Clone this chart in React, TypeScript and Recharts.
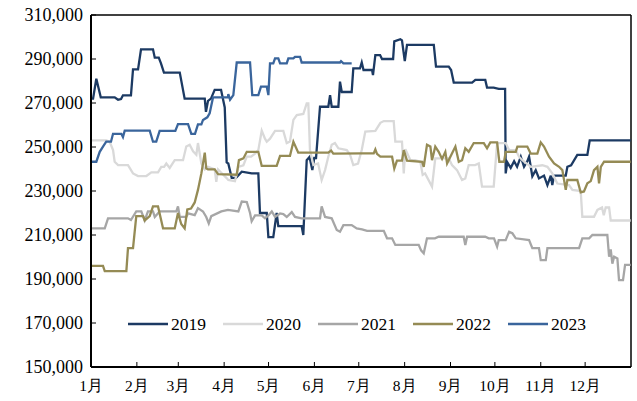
import React from 'react';
import { LineChart, Line, XAxis, YAxis, Legend, ReferenceLine } from 'recharts';

// x = day of year (0..365), y = price
const monthStarts = [0, 31, 59, 90, 120, 151, 181, 212, 243, 273, 304, 334];
const monthLabels = ['1月', '2月', '3月', '4月', '5月', '6月', '7月', '8月', '9月', '10月', '11月', '12月'];
const yTicks = [150000, 170000, 190000, 210000, 230000, 250000, 270000, 290000, 310000];

const s2019: [number, number][] = [
  [0, 272000], [1.4, 272000], [3.6, 281000], [6.6, 272600], [16, 272600], [18.3, 271500], [20.3, 271800],
  [21.6, 273500], [27, 273500], [28.4, 285300], [31.8, 285300], [33.8, 294400], [41.9, 294400], [43.1, 290600],
  [45.8, 290600], [47.3, 288000], [49.3, 283800], [60, 283800], [63.3, 272000], [76.9, 272000], [77.7, 266000],
  [79.1, 271000], [81.1, 272000], [83.6, 276000], [87.9, 276000], [90.4, 268000], [91.7, 243000], [92.8, 242500],
  [95.1, 236000], [98, 236000], [101.9, 238800], [108.6, 238000], [113.1, 238000], [114.2, 220000], [118.8, 220000],
  [119.9, 209000], [123.2, 209000], [125.5, 220000], [126.6, 214000], [142.4, 214000], [143.5, 210000],
  [145.8, 244000], [147.7, 245500], [149.6, 239500], [150.9, 245000], [152.1, 245000], [154.8, 268300],
  [160.4, 268300], [161.6, 273600], [162.7, 268300], [167.2, 268300], [168.3, 279700], [169.5, 275000],
  [176.2, 275000], [177.3, 285700], [181.8, 285700], [183, 288400], [184.2, 285000], [190, 285000],
  [190.6, 282700], [192.2, 291800], [195.4, 291800], [196.7, 290000], [204.2, 290000], [205, 298000],
  [209.1, 299000], [210.2, 298500], [212.1, 289000], [213.6, 296400], [231.7, 296400], [233.2, 286500],
  [241.8, 286500], [243.4, 285000], [245.2, 279300], [257.6, 279300], [259.8, 280500], [266.5, 280500],
  [267.7, 277000], [272.2, 277000], [275.6, 276400], [279.9, 276400], [280.3, 238000], [281.4, 243000],
  [283.7, 240500], [286, 243500], [288, 241000], [290.5, 245600], [292.7, 241000], [294.9, 243500],
  [296.1, 245600], [298.3, 236700], [300.6, 239500], [302.8, 235700], [306.2, 237000], [308.5, 232700],
  [310.8, 237000], [311.8, 232700], [313, 237000], [320.9, 237000], [322, 241000], [324.5, 241700],
  [328.7, 246400], [335.5, 246400], [337.1, 253000], [364.8, 253000],
];

const s2020: [number, number][] = [
  [0, 253000], [10.3, 253000], [12.6, 252400], [14.9, 248600], [16, 243300], [18.3, 241800], [25, 241800],
  [28.4, 238000], [31.8, 236800], [37.4, 236800], [40.8, 238500], [45.3, 238500], [47.5, 241000], [49.4, 241000],
  [50.9, 242500], [53.2, 240500], [56.6, 244000], [62.2, 244000], [64.4, 250200], [66.7, 251000], [69, 248000],
  [71.2, 246500], [72.3, 251800], [74.6, 242500], [76.9, 239800], [79.1, 241000], [83.6, 239800], [84.7, 234200],
  [85.9, 239800], [89.2, 237500], [91.5, 236000], [92.8, 235000], [97.3, 234500], [99.6, 241000], [103, 241700],
  [105.3, 245600], [108.2, 245600], [110.9, 247000], [113.1, 248600], [115.4, 257400], [117.6, 253800],
  [118.8, 252400], [121, 253800], [124.4, 257300], [130, 257300], [132.3, 251800], [134.5, 252500],
  [136.8, 262300], [139.1, 264500], [143.5, 265000], [145.8, 269800], [146.9, 269800], [148, 248600],
  [150.3, 241800], [153.5, 242500], [155.9, 235000], [158.2, 239500], [160.4, 245600], [162.7, 251000],
  [164.9, 251800], [167.2, 249400], [172.9, 248600], [175.1, 246500], [177.3, 241800], [180.5, 242500],
  [183, 248600], [185.4, 257000], [192.2, 257300], [195.6, 261000], [197.9, 261800], [204.6, 261800],
  [205.7, 252400], [210.2, 252400], [211.4, 238000], [212.5, 249000], [215.9, 244000], [219, 244000],
  [222.6, 243300], [224.2, 237300], [225.8, 238000], [230.5, 232000], [232.7, 244800], [241.8, 244800],
  [244, 241800], [247.4, 239500], [250.8, 235000], [253, 235700], [255.3, 241800], [259.6, 241800],
  [262.1, 242500], [264.3, 232000], [272.2, 232000], [274.5, 251800], [280.3, 251800], [282.6, 248600],
  [287.1, 248600], [289.3, 245600], [291.6, 244000], [297.3, 241000], [305.1, 241700], [308.5, 241000],
  [311.8, 238000], [315.2, 233400], [323.1, 232700], [325.4, 230500], [331, 230000], [332.1, 218300],
  [340, 218300], [342.3, 221400], [345.4, 222500], [346.6, 219000], [347.9, 222500], [350.2, 222500],
  [351.3, 216600], [364.8, 216600],
];

const s2021: [number, number][] = [
  [0, 213000], [9.3, 213000], [11.5, 217600], [25, 217600], [27, 216800], [30.6, 220700], [34, 220700],
  [36.3, 216600], [38.5, 220700], [41.9, 220700], [43.1, 218200], [46.4, 220700], [57.7, 220700], [58.8, 223000],
  [60, 218200], [64.4, 218200], [65.6, 219800], [70.1, 219000], [72.3, 222200], [75.7, 220700], [77.9, 218200],
  [79.6, 215300], [81.3, 218600], [88.1, 220700], [92.6, 221400], [99.6, 220700], [101.9, 225200],
  [105.3, 225000], [107.5, 220000], [108.6, 216200], [110.9, 218900], [115.4, 218900], [117.6, 217600],
  [119.9, 218900], [122.2, 220700], [124.4, 218200], [127.8, 219800], [130, 219500], [132.3, 218200],
  [135.7, 220400], [137.9, 218200], [142.4, 217600], [154.8, 217600], [155.9, 223000], [158.2, 218200],
  [162.7, 217600], [166.1, 212300], [168.3, 211500], [170.6, 214500], [176.2, 214500], [179.6, 213000],
  [183.2, 212600], [186.6, 211900], [197.9, 211900], [200.1, 208500], [203.5, 208500], [205.7, 205500],
  [221.5, 205500], [223.1, 203000], [224.9, 201700], [227.1, 208500], [232.5, 208500], [235, 209200],
  [251.9, 209200], [253, 205500], [254.2, 209200], [266.5, 209200], [268.8, 208500], [272.4, 208500],
  [274.5, 204700], [275.6, 207700], [280.3, 207700], [282.6, 211500], [284.8, 210800], [287.1, 208500],
  [296.1, 207700], [298.3, 204000], [302.8, 204000], [304, 198600], [307.4, 198600], [308.5, 204000],
  [329.9, 204000], [332.1, 208500], [336.7, 208500], [338.9, 210000], [349, 210000], [350.2, 200100],
  [351.3, 203500], [352.4, 197000], [353.6, 200100], [355.8, 199300], [356.9, 189500], [359.6, 189500],
  [361, 196400], [364.8, 196400],
];

const s2022: [number, number][] = [
  [0, 196000], [8.1, 196000], [9.3, 193600], [23.9, 193600], [25, 204000], [28.4, 204000], [30.6, 218600],
  [35.2, 218600], [36.3, 216600], [39.7, 218600], [41.9, 223000], [45.3, 223000], [48.7, 213000], [56.6, 213000],
  [58.8, 220000], [61, 215000], [63.3, 213000], [65.1, 221600], [67.6, 222000], [70.1, 224800], [72.3, 230500],
  [74.6, 238000], [76.9, 247400], [77.9, 240300], [79.1, 239800], [83.6, 239800], [85.9, 237700], [98.5, 237400],
  [100, 244000], [103, 244800], [105.3, 247800], [113.1, 247800], [115.4, 241400], [125.5, 241400],
  [127.8, 246000], [134.5, 246000], [136.8, 252400], [140.1, 247400], [160.4, 247400], [162.3, 248400],
  [163.8, 247000], [183.2, 247100], [191.1, 247100], [192.2, 248900], [193.3, 246900], [195.6, 245600],
  [203.5, 245600], [205, 240200], [206.8, 243800], [210.2, 243800], [211.4, 248600], [213.6, 243800],
  [223.8, 243300], [224.9, 241000], [227.1, 251000], [229.4, 250200], [230.5, 244000], [232.7, 250200],
  [235, 247800], [237.3, 244600], [239.5, 247800], [240.7, 242500], [242.9, 245600], [246.3, 250200],
  [248.6, 243300], [250.8, 244000], [253, 249400], [255.3, 247800], [258.7, 251800], [265.5, 251800],
  [267.7, 249400], [269.9, 252100], [274.5, 252100], [276, 243300], [279.2, 243300], [280.3, 247800],
  [287.1, 247800], [288.2, 250200], [294.9, 250200], [297.2, 247000], [301.7, 247000], [304, 252100],
  [306.2, 250200], [309.6, 245600], [313, 242500], [316.4, 241000], [318.6, 239500], [320.9, 230500],
  [322, 235000], [328.7, 235000], [331, 229400], [333.2, 229800], [335.5, 233500], [337.8, 234500],
  [340, 239500], [342.3, 241000], [343.4, 233500], [344.6, 241000], [346.8, 243300], [364.8, 243300],
];

const s2023: [number, number][] = [
  [0, 243300], [3.6, 243300], [5.9, 247800], [8.1, 250200], [10.3, 252400], [13.5, 252400], [14.9, 256000],
  [20.5, 256000], [21.6, 254500], [22.8, 257400], [39.7, 257400], [41.9, 252400], [44.1, 252400],
  [46.4, 257300], [57, 257300], [58.8, 260400], [65.6, 260400], [67.8, 256000], [70.3, 256000], [72.3, 260300],
  [74.6, 260300], [75.7, 262300], [78.6, 263500], [80.2, 265300], [82.5, 272600], [92.6, 272600],
  [92.8, 274000], [94, 271500], [96.2, 273600], [98.5, 288400], [107.5, 288400], [109, 273600],
  [113.1, 273600], [114.9, 277400], [118.8, 277400], [119.9, 273600], [121, 288000], [123.2, 288000],
  [124.4, 290300], [126.6, 290300], [127.8, 288000], [132.3, 288000], [133.4, 290300], [136.8, 290300],
  [137.9, 291000], [141.3, 291000], [142.4, 288400], [168.3, 288400], [169, 289000], [170.6, 288000],
  [176.2, 288000],
];

const series = [
  { name: '2019', points: s2019, color: '#1C3A63' },
  { name: '2020', points: s2020, color: '#D9D9D9' },
  { name: '2021', points: s2021, color: '#A6A6A6' },
  { name: '2022', points: s2022, color: '#958B55' },
  { name: '2023', points: s2023, color: '#3A659C' },
];

const FONT = '"Liberation Serif", "Times New Roman", serif';

function LegendBox() {
  return (
    <div style={{ display: 'flex', fontFamily: FONT, fontSize: 17.5, color: '#000', lineHeight: '20px' }}>
      {series.map((s) => (
        <div key={s.name} style={{ display: 'flex', alignItems: 'center', width: 95 }}>
          <svg width={40} height={6} style={{ marginRight: 3 }}>
            <line x1={0} y1={3} x2={40} y2={3} stroke={s.color} strokeWidth={2.5} />
          </svg>
          <span>{s.name}</span>
        </div>
      ))}
    </div>
  );
}

export default function App() {
  return (
    <div style={{ position: 'absolute', left: 0, top: 0, width: 637, height: 401, background: '#fff' }}>
      <LineChart width={637} height={401} margin={{ top: 15, right: 6, bottom: 4, left: 0 }}>
        <XAxis
          type="number"
          dataKey="d"
          domain={[0, 365]}
          ticks={monthStarts}
          interval={0}
          tickFormatter={(v: number) => monthLabels[monthStarts.indexOf(v)] ?? ''}
          axisLine={{ stroke: '#000', strokeWidth: 2 }}
          tickLine={{ stroke: '#000', strokeWidth: 1 }}
          tickSize={-5}
          tickMargin={18}
          height={30}
          tick={{ fontSize: 15.5, fill: '#000', fontFamily: FONT }}
          allowDataOverflow
        />
        <YAxis
          type="number"
          domain={[150000, 310000]}
          ticks={yTicks}
          interval={0}
          width={91}
          tickFormatter={(v: number) => v.toLocaleString('en-US')}
          axisLine={{ stroke: '#000', strokeWidth: 2 }}
          tickLine={{ stroke: '#000', strokeWidth: 1 }}
          tickSize={-5}
          tickMargin={13}
          tick={{ fontSize: 18, fill: '#000', fontFamily: FONT }}
          allowDataOverflow
        />
        <ReferenceLine y={310000} stroke="#000" strokeWidth={1.5} />
        <ReferenceLine x={365} stroke="#000" strokeWidth={1.5} />
        {series.map((s) => (
          <Line
            key={s.name}
            name={s.name}
            data={s.points.map(([d, v]) => ({ d, v }))}
            dataKey="v"
            type="linear"
            stroke={s.color}
            strokeWidth={2.3}
            dot={false}
            activeDot={false}
            isAnimationActive={false}
          />
        ))}
        <Legend
          layout="horizontal"
          verticalAlign="middle"
          align="center"
          content={() => <LegendBox />}
          wrapperStyle={{ position: 'absolute', left: 128, top: 314, width: 480 }}
        />
      </LineChart>
    </div>
  );
}
